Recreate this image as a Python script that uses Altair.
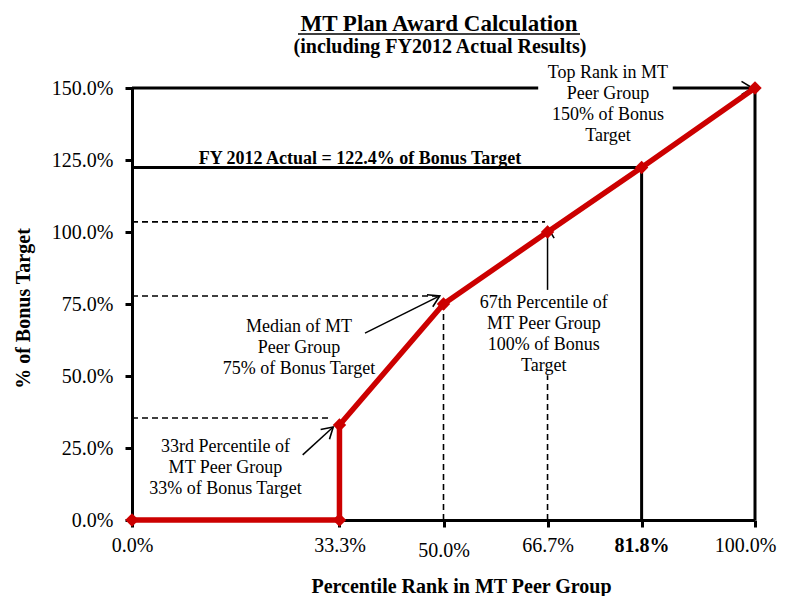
import altair as alt
import pandas as pd

# ---------------- data ----------------
red_x = [0, 33.3, 33.3, 50, 66.7, 81.8, 100]
red_y = [0, 0, 33, 75, 100, 122.4, 150]

# solid black guide segments
solid_x = [0, 86.8, 0, 81.8, 100]
solid_x2 = [65.2, 100, 81.8, 81.8, 100]
solid_y = [150, 150, 122.4, 0, 0]
solid_y2 = [150, 150, 122.4, 122.4, 150]

# dashed guide segments
dash_x = [0, 0, 0, 50, 66.7]
dash_x2 = [66.3, 49, 32, 50, 66.7]
dash_y = [103.5, 77.8, 35.4, 0, 0]
dash_y2 = [103.5, 77.8, 35.4, 75, 50.3]

# annotation arrows (shaft)
arrow_x = [37.4, 27.4, 66.7]
arrow_y = [64.9, 22.6, 79.9]
arrow_x2 = [49.4, 32.3, 66.7]
arrow_y2 = [77.8, 32.3, 101.7]

# arrow heads
head_x = [49.4, 32.3, 66.7, 99.6]
head_y = [77.8, 32.3, 101.7, 150]
head_angle = [334, 318, 270, 0]

# annotation texts
annot_text = [
    "Top Rank in MT\nPeer Group\n150% of Bonus\nTarget",
    "Median of MT\nPeer Group\n75% of Bonus Target",
    "67th Percentile  of\nMT Peer Group\n100% of Bonus\nTarget",
    "33rd Percentile  of\nMT Peer Group\n33% of Bonus Target",
]
annot_x = [76.4, 26.8, 66.1, 15.0]
annot_y = [155.3, 67.1, 75.5, 25.5]

actual_text = ["FY 2012 Actual = 122.4% of Bonus Target"]
actual_x = [36.6]
actual_y = [123.6]

title_text = "MT Plan Award Calculation"
subtitle_text = "(including FY2012 Actual Results)"

x_ticks = [0, 33.3, 50, 66.7, 81.8, 100]
y_ticks = [0, 25, 50, 75, 100, 125, 150]

FONT = "Liberation Serif"
RED = "#cc0000"

xs = alt.Scale(domain=[0, 100], nice=False, zero=False)
ys = alt.Scale(domain=[0, 150], nice=False, zero=False)

red_df = pd.DataFrame({"x": red_x, "y": red_y, "i": list(range(len(red_x)))})
solid_df = pd.DataFrame({"x": solid_x, "x2": solid_x2, "y": solid_y, "y2": solid_y2})
dash_df = pd.DataFrame({"x": dash_x, "x2": dash_x2, "y": dash_y, "y2": dash_y2})
arrow_df = pd.DataFrame({"x": arrow_x, "x2": arrow_x2, "y": arrow_y, "y2": arrow_y2})
head_df = pd.DataFrame({"x": head_x, "y": head_y, "a": head_angle})
annot_df = pd.DataFrame({"x": annot_x, "y": annot_y, "t": annot_text})
actual_df = pd.DataFrame({"x": actual_x, "y": actual_y, "t": actual_text})
title_df = pd.DataFrame({"t": [title_text], "s": [subtitle_text]})

x_axis = alt.Axis(
    values=x_ticks,
    labelExpr="format(datum.value, '.1f') + '%'",
    labelFont=FONT, labelFontSize=20, labelColor="black",
    labelFontWeight=alt.condition("datum.value == 81.8", alt.value("bold"), alt.value("normal")),
    labelPadding=alt.condition("datum.value == 50", alt.value(13), alt.value(8)),
    labelOffset=alt.condition("datum.value == 100", alt.value(-10), alt.value(0)),
    labelBaseline="top",
    domainColor="black", domainWidth=3, tickColor="black", tickWidth=3, tickSize=7,
    grid=False, labelFlush=False,
    title="Percentile Rank in MT Peer Group",
    titleFont=FONT, titleFontSize=20, titleFontWeight="bold", titleColor="black",
    titleX=329, titleY=72, titleBaseline="alphabetic", titleAlign="center",
)
y_axis = alt.Axis(
    values=y_ticks,
    labelExpr="format(datum.value, '.1f') + '%'",
    labelFont=FONT, labelFontSize=20, labelColor="black", labelPadding=12,
    domainColor="black", domainWidth=3, tickColor="black", tickWidth=3, tickSize=7,
    grid=False,
    title="% of Bonus Target",
    titleFont=FONT, titleFontSize=20, titleFontWeight="bold", titleColor="black",
    titleX=-99, titleY=220, titleBaseline="bottom", titleAlign="center",
)

X = alt.X("x:Q", scale=xs, axis=x_axis)
Y = alt.Y("y:Q", scale=ys, axis=y_axis)

base_line = alt.Chart(red_df).mark_line(color=RED, strokeWidth=5.5).encode(
    x=X, y=Y, order="i:Q",
)
markers = alt.Chart(red_df).mark_point(
    shape="diamond", filled=True, color=RED, size=180, opacity=1
).encode(x=X, y=Y)

def segs(df, **kw):
    return alt.Chart(df).mark_rule(color="black", **kw).encode(
        x=X, x2="x2:Q", y=Y, y2="y2:Q",
    )

solid = segs(solid_df, strokeWidth=3)
dashed = segs(dash_df, strokeWidth=1.6, strokeDash=[6, 4])
arrows = segs(arrow_df, strokeWidth=1.5)
heads = alt.Chart(head_df).mark_point(
    shape="M-1,-0.6L0,0L-1,0.6", filled=False, stroke="black", strokeWidth=1.6,
    size=484, opacity=1
).encode(x=X, y=Y, angle=alt.Angle("a:Q", scale=None))

annots = alt.Chart(annot_df).mark_text(
    font=FONT, fontSize=18, lineBreak="\n", lineHeight=21, align="center",
    baseline="middle", color="black"
).encode(x=X, y=Y, text="t:N")
actual = alt.Chart(actual_df).mark_text(
    font=FONT, fontSize=18, fontWeight="bold", align="center",
    baseline="alphabetic", color="black"
).encode(x=X, y=Y, text="t:N")

# chart title (drawn as text so that it can carry its underline)
title_mark = alt.Chart(title_df).mark_text(
    font=FONT, fontSize=23, fontWeight="bold", align="center",
    baseline="alphabetic", color="black"
).encode(x=alt.value(307), y=alt.value(-57), text="t:N")
subtitle_mark = alt.Chart(title_df).mark_text(
    font=FONT, fontSize=20, fontWeight="bold", align="center",
    baseline="alphabetic", color="black"
).encode(x=alt.value(308), y=alt.value(-35), text="s:N")
underline = alt.Chart(title_df).mark_rule(color="black", strokeWidth=1.5).encode(
    x=alt.value(166), x2=alt.value(448), y=alt.value(-54)
)

chart = alt.layer(
    dashed, solid, arrows, heads, base_line, markers, annots, actual,
    title_mark, subtitle_mark, underline
).properties(
    width=623, height=432,
    autosize=alt.AutoSizeParams(type="none"),
    padding={"left": 124, "top": 80, "right": 24, "bottom": 76},
    background="white",
).configure_view(stroke=None)

chart.save("out.html", embed_options={"renderer": "svg", "actions": False})
